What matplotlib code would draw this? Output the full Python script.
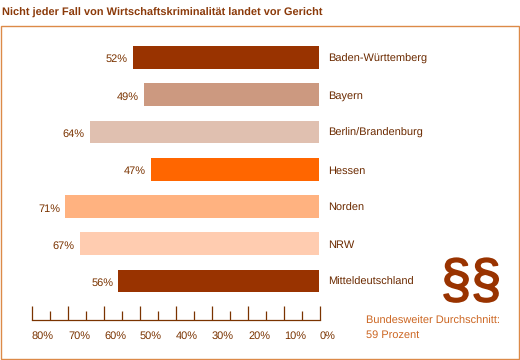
import matplotlib
matplotlib.use('Agg')
import matplotlib.pyplot as plt
import matplotlib.patheffects as pe
from matplotlib.patches import Rectangle

regions = ['Baden-Württemberg', 'Bayern', 'Berlin/Brandenburg', 'Hessen', 'Norden', 'NRW', 'Mitteldeutschland']
percent = [52, 49, 64, 47, 71, 67, 56]
bar_values = [52, 48.9, 63.9, 47, 70.7, 66.7, 56]
colors = ['#993300', '#CC9980', '#E0C0B0', '#FF6600', '#FFB280', '#FFCCB0', '#993300']
ticks = [80, 70, 60, 50, 40, 30, 20, 10, 0]
minor_ticks = [75, 65, 55, 45, 35, 25, 15, 5]

W, H = 520, 360
plt.rcParams['font.family'] = ['Liberation Sans', 'DejaVu Sans']
plt.rcParams['text.hinting'] = 'no_hinting'
plt.rcParams['text.hinting_factor'] = 1
text_col = '#7A3300'
line_col = '#7A3300'

fig = plt.figure(figsize=(W / 100, H / 100), dpi=100)
fig.patch.set_facecolor('white')

# orange frame
fig.add_artist(Rectangle((0.5 / W, 1 - 358.5 / H), 518.5 / W, 333 / H, transform=fig.transFigure,
                         fill=False, edgecolor='#DC8A48', linewidth=1.0))
fig.text(2 / W, 1 - 13 / H, 'Nicht jeder Fall von Wirtschaftskriminalität landet vor Gericht',
         fontsize=7.6, fontweight='bold', color='#8B3A0A', va='center', ha='left')

ax = fig.add_axes([32 / W, 1 - 320 / H, 288 / W, 293 / H])
ax.set_xlim(80, 0)
ax.set_ylim(7.045, -0.817)
ax.patch.set_alpha(0)
for s in ['top', 'left', 'right']:
    ax.spines[s].set_visible(False)
ax.spines['bottom'].set_color(line_col)
ax.spines['bottom'].set_linewidth(0.9)

for i, name in enumerate(regions):
    ax.barh(i, bar_values[i] - 0.25, left=0.25, height=0.61, color=colors[i], linewidth=0)
    ax.annotate('{}%'.format(percent[i]), (bar_values[i], i), xytext=(-3.6, -1.5), textcoords='offset points',
                ha='right', va='center', fontsize=7.8, color=text_col)
    ax.annotate(name, (0, i), xytext=(6, -1), textcoords='offset points',
                ha='left', va='center', fontsize=7.7, color='#6B2A00', annotation_clip=False)

ax.set_xticks(ticks)
ax.set_xticks(minor_ticks, minor=True)
ax.set_xticklabels(['{}%'.format(t) for t in ticks], ha='left', fontsize=7.8, color=text_col)
ax.set_yticks([])
ax.tick_params(axis='x', which='major', direction='in', length=10, width=0.9, color=line_col, pad=8)
ax.tick_params(axis='x', which='minor', direction='in', length=6.5, width=0.9, color=line_col)

fig.text(471 / W, 1 - 283.5 / H, '§§', fontsize=39, color='#993300', ha='center', va='center',
         path_effects=[pe.withStroke(linewidth=1.2, foreground='#993300')])
fig.text(366 / W, 1 - 321 / H, 'Bundesweiter Durchschnitt:', fontsize=7.8, color='#CC6622', ha='left', va='center')
fig.text(366 / W, 1 - 335 / H, '59 Prozent', fontsize=7.8, color='#CC6622', ha='left', va='center')

fig.savefig('out.png', dpi=100)
